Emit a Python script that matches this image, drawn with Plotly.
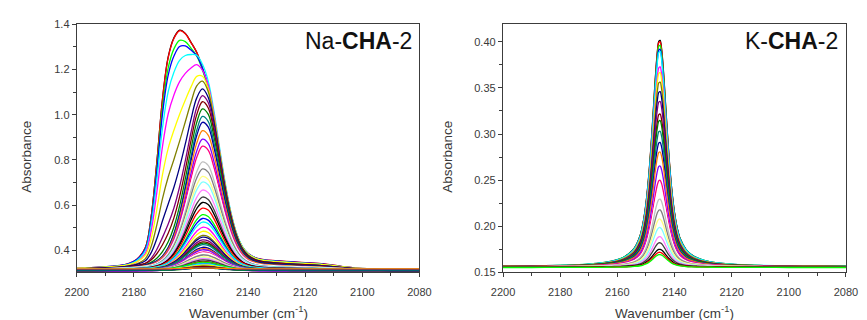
import plotly.graph_objects as go

# ---------------- data ----------------
# Origin default colour cycle (dataset order)
ORIGIN_COLORS = ["#000000", "#FF0000", "#00FF00", "#0000FF", "#00FFFF", "#FF00FF",
                 "#FFFF00", "#808000", "#000080", "#800080", "#800000", "#008000",
                 "#008080", "#0000A0", "#FF8000", "#8000FF", "#FF0080", "#FFFFFF",
                 "#C0C0C0", "#808080", "#FFFF80", "#80FFFF", "#FF80FF", "#404040"]

# Na-CHA-2 : wavenumber grid (cm-1) and normalised band profiles
WN_NA = [2200, 2195, 2190, 2185, 2182, 2179, 2176, 2174, 2172, 2170, 2168, 2166,
         2164, 2162, 2160, 2158, 2156, 2154, 2152, 2150, 2148, 2146, 2144, 2142,
         2140, 2137, 2134, 2130, 2125, 2120, 2115, 2110, 2105, 2100, 2090, 2080]
# band at ~2155 cm-1
NA_BAND_LOW = [0.007, 0.009, 0.012, 0.016, 0.020, 0.025, 0.033, 0.043, 0.061, 0.093, 0.149, 0.240,
               0.373, 0.546, 0.738, 0.907, 0.996, 0.965, 0.829, 0.642, 0.456, 0.301, 0.189, 0.117,
               0.075, 0.043, 0.029, 0.021, 0.015, 0.011, 0.009, 0.007, 0.006, 0.005, 0.003, 0.003]
# band at ~2166 cm-1
NA_BAND_HIGH = [0.004, 0.005, 0.007, 0.010, 0.016, 0.035, 0.090, 0.240, 0.510, 0.815, 0.984, 1.000,
                0.917, 0.740, 0.515, 0.306, 0.140, 0.070, 0.040, 0.025, 0.018, 0.014, 0.011, 0.010,
                0.009, 0.008, 0.007, 0.006, 0.005, 0.004, 0.004, 0.003, 0.003, 0.002, 0.002, 0.002]
# weak shelf at ~2120 cm-1
NA_BAND_SHELF = [0, 0, 0, 0, 0, 0, 0, 0, 0, 0, 0, 0,
                 0, 0, 0, 0, 0, 0, 0, 0, 0, 0, 0.05, 0.15,
                 0.35, 0.60, 0.80, 0.95, 1.0, 1.0, 0.90, 0.65, 0.30, 0.08, 0, 0]

# per-spectrum amplitudes (absorbance above baseline), largest spectrum first
NA_AMP_LOW = [0.78, 0.78, 0.78, 0.79, 0.82, 0.81, 0.80, 0.80, 0.78, 0.765,
              0.74, 0.715, 0.685, 0.655, 0.62, 0.585, 0.552, 0.515, 0.483, 0.45,
              0.42, 0.39, 0.357, 0.327, 0.30, 0.276, 0.25, 0.231, 0.212, 0.193,
              0.173, 0.158, 0.146, 0.136, 0.128, 0.12, 0.112, 0.105, 0.097, 0.09,
              0.083, 0.077, 0.071, 0.066, 0.061, 0.056, 0.051, 0.046, 0.042, 0.038,
              0.034, 0.031, 0.028, 0.025, 0.022, 0.02, 0.018, 0.016, 0.014, 0.012,
              0.01, 0.007, 0.004]
NA_AMP_HIGH = [0.843, 0.838, 0.795, 0.757, 0.68, 0.585, 0.425, 0.30, 0.18, 0.095,
               0.053, 0.021, 0, 0, 0, 0, 0, 0, 0, 0,
               0, 0, 0, 0, 0, 0, 0, 0, 0, 0,
               0, 0, 0, 0, 0, 0, 0, 0, 0, 0,
               0, 0, 0, 0, 0, 0, 0, 0, 0, 0,
               0, 0, 0, 0, 0, 0, 0, 0, 0, 0,
               0, 0, 0]
NA_AMP_SHELF = [0.022, 0.022, 0.021, 0.020, 0.020, 0.019, 0.018, 0.017, 0.016, 0.015,
                0.014, 0.013, 0.012, 0.011, 0.010, 0.009, 0.008, 0.008, 0.007, 0.006,
                0.006, 0.005, 0.005, 0.004, 0.004, 0.003, 0.003, 0.003, 0.002, 0.002,
                0.002, 0.002, 0.002, 0.001, 0.001, 0.001, 0.001, 0.001, 0.001, 0.001,
                0, 0, 0, 0, 0, 0, 0, 0, 0, 0,
                0, 0, 0, 0, 0, 0, 0, 0, 0, 0,
                0, 0, 0]
NA_BASE = [0.310, 0.312, 0.309, 0.313, 0.311, 0.308, 0.314, 0.310, 0.312, 0.309,
           0.313, 0.311, 0.310, 0.314, 0.312, 0.309, 0.311, 0.313, 0.310, 0.312,
           0.309, 0.314, 0.311, 0.310, 0.313, 0.312, 0.309, 0.311, 0.314, 0.310,
           0.312, 0.309, 0.313, 0.311, 0.310, 0.312, 0.314, 0.309, 0.311, 0.313,
           0.310, 0.312, 0.309, 0.314, 0.311, 0.310, 0.313, 0.312, 0.309, 0.311,
           0.314, 0.310, 0.312, 0.309, 0.313, 0.311, 0.310, 0.312, 0.314, 0.311,
           0.313, 0.315, 0.318]

# K-CHA-2
WN_K = [2200, 2190, 2180, 2175, 2170, 2165, 2162, 2160, 2158, 2156, 2154, 2152,
        2151, 2150, 2149, 2148, 2147, 2146.5, 2146, 2145.5, 2145, 2144.5, 2144, 2143.5,
        2143, 2142, 2141, 2140, 2139, 2138, 2136, 2134, 2132, 2130, 2127, 2124,
        2120, 2115, 2110, 2100, 2090, 2080]
K_BAND = [0.0024, 0.0036, 0.0059, 0.008, 0.0115, 0.0178, 0.0245, 0.0313, 0.041, 0.057, 0.083, 0.139,
          0.193, 0.277, 0.402, 0.571, 0.772, 0.868, 0.946, 0.992, 0.996, 0.958, 0.886, 0.792,
          0.690, 0.499, 0.346, 0.239, 0.168, 0.124, 0.077, 0.053, 0.039, 0.0297, 0.021, 0.0156,
          0.0111, 0.0078, 0.0057, 0.0035, 0.0024, 0.0017]
K_AMP = [0.2465, 0.2455, 0.241, 0.237, 0.234, 0.218, 0.2115, 0.201, 0.191, 0.180,
         0.1665, 0.159, 0.148, 0.1355, 0.125, 0.110, 0.094, 0.084, 0.074, 0.062,
         0.052, 0.043, 0.033, 0.0265, 0.0195, 0.0165, 0.014]
K_BASE = [0.1560, 0.1555, 0.1560, 0.1558, 0.1562, 0.1556, 0.1559, 0.1561, 0.1557, 0.1560,
          0.1558, 0.1562, 0.1556, 0.1559, 0.1560, 0.1557, 0.1561, 0.1558, 0.1556, 0.1559,
          0.1560, 0.1557, 0.1558, 0.1556, 0.1555, 0.1553, 0.1552]

X_TICKS = [2200, 2180, 2160, 2140, 2120, 2100, 2080]

# ---------------- figure ----------------
fig = go.Figure()

for i in range(len(NA_AMP_LOW)):
    y = [NA_BASE[i] + NA_AMP_LOW[i] * a + NA_AMP_HIGH[i] * b + NA_AMP_SHELF[i] * c
         for a, b, c in zip(NA_BAND_LOW, NA_BAND_HIGH, NA_BAND_SHELF)]
    fig.add_trace(go.Scatter(x=WN_NA, y=y, mode="lines", xaxis="x", yaxis="y",
                             line=dict(color=ORIGIN_COLORS[i % 24], width=1.3, shape="spline", smoothing=1.0),
                             showlegend=False, hoverinfo="skip"))

for i in range(len(K_AMP)):
    y = [K_BASE[i] + K_AMP[i] * p for p in K_BAND]
    fig.add_trace(go.Scatter(x=WN_K, y=y, mode="lines", xaxis="x2", yaxis="y2",
                             line=dict(color=ORIGIN_COLORS[i % 24], width=1.3, shape="spline", smoothing=0.8),
                             showlegend=False, hoverinfo="skip"))

W, H = 867, 320
L1, R1 = 66.7, 419.0
L2, R2 = 505.0, 857.7
TOP, BOT = 19.0, 276.7

tickfont = dict(family="Liberation Sans, Arial, sans-serif", size=11, color="#3a3a3a")
axis_common = dict(showline=True, linecolor="#3c3c3c", linewidth=1.3, mirror=True,
                   ticks="outside", ticklen=4, tickwidth=1, tickcolor="#3c3c3c",
                   showgrid=False, zeroline=False, tickfont=tickfont)
xminor = dict(dtick=10, ticks="outside", ticklen=2.5, tickcolor="#3c3c3c")

fig.update_layout(
    width=W, height=H,
    margin=dict(l=0, r=0, t=0, b=0),
    paper_bgcolor="white", plot_bgcolor="white",
    xaxis=dict(domain=[L1 / W, R1 / W], range=[2200, 2080], tickvals=X_TICKS,
               minor=xminor, ticklabelstandoff=5, anchor="y", **axis_common),
    yaxis=dict(domain=[1 - BOT / H, 1 - TOP / H], range=[0.303, 1.4], tick0=0, dtick=0.2,
               tickformat=".1f",
               minor=dict(dtick=0.1, ticks="outside", ticklen=2.5, tickcolor="#3c3c3c"),
               anchor="x", **axis_common),
    xaxis2=dict(domain=[L2 / W, R2 / W], range=[2200, 2080], tickvals=X_TICKS,
                minor=xminor, ticklabelstandoff=5, anchor="y2", **axis_common),
    yaxis2=dict(domain=[1 - BOT / H, 1 - TOP / H], range=[0.15, 0.419], tick0=0, dtick=0.05,
                tickformat=".2f",
                minor=dict(dtick=0.025, ticks="outside", ticklen=2.5, tickcolor="#3c3c3c"),
                anchor="x2", **axis_common),
)

titlefont = dict(family="Liberation Sans, Arial, sans-serif", size=13.5, color="#3a3a3a")
labelfont = dict(family="Liberation Sans, Arial, sans-serif", size=23, color="#111111")
ann = []
for (l, r, lab, yx) in [(L1, R1, "Na-<b>CHA</b>-2", 15), (L2, R2, "K-<b>CHA</b>-2", 448)]:
    ann.append(dict(x=(l + r) / 2 / W, y=1 - 318 / H, xref="paper", yref="paper",
                    text="Wavenumber (cm<sup>-1</sup>)", showarrow=False, font=titlefont,
                    xanchor="center", yanchor="middle"))
    ann.append(dict(x=yx / W, y=1 - 157 / H, xref="paper", yref="paper",
                    text="Absorbance", showarrow=False, font=titlefont, textangle=-90,
                    xanchor="center", yanchor="middle"))
    ann.append(dict(x=(r - 6) / W, y=1 - 36 / H, xref="paper", yref="paper",
                    text=lab, showarrow=False, font=labelfont,
                    xanchor="right", yanchor="middle"))
fig.update_layout(annotations=ann)

fig.write_html("out.html")
